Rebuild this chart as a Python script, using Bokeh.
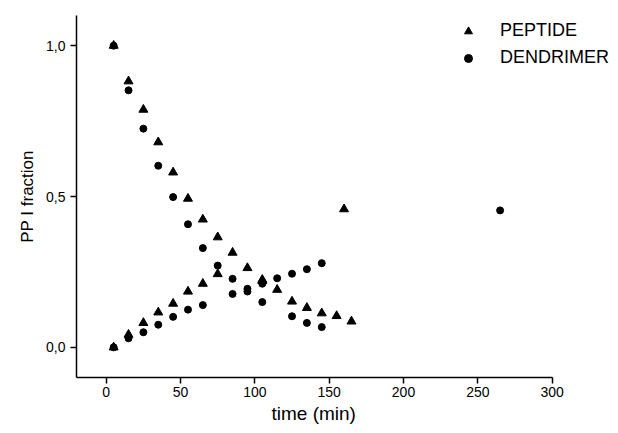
from bokeh.plotting import figure
from bokeh.models import Range1d, FixedTicker, Legend, LegendItem, Title
from bokeh.embed import file_html
from bokeh.resources import INLINE

# PEPTIDE (triangles)
peptide_dec_x = [5, 15, 25, 35, 45, 55, 65, 75, 85, 95, 105, 115, 125, 135, 145, 155, 165]
peptide_dec_y = [1.0, 0.882, 0.788, 0.680, 0.580, 0.493, 0.424, 0.365, 0.314, 0.263, 0.224, 0.191, 0.152, 0.131, 0.113, 0.104, 0.086]
peptide_inc_x = [5, 15, 25, 35, 45, 55, 65, 75, 105]
peptide_inc_y = [0.0, 0.042, 0.081, 0.116, 0.145, 0.185, 0.211, 0.243, 0.220]
peptide_extra_x = [160]
peptide_extra_y = [0.458]

# DENDRIMER (circles)
dendrimer_dec_x = [5, 15, 25, 35, 45, 55, 65, 75, 85, 95, 105, 125, 135, 145]
dendrimer_dec_y = [1.0, 0.852, 0.725, 0.602, 0.498, 0.408, 0.329, 0.271, 0.227, 0.194, 0.150, 0.103, 0.081, 0.067]
dendrimer_inc_x = [5, 15, 25, 35, 45, 55, 65, 85, 95, 105, 115, 125, 135, 145]
dendrimer_inc_y = [0.0, 0.030, 0.050, 0.075, 0.101, 0.125, 0.140, 0.177, 0.185, 0.211, 0.229, 0.244, 0.259, 0.279]
dendrimer_extra_x = [265]
dendrimer_extra_y = [0.454]

x_ticks = [0, 50, 100, 150, 200, 250, 300]
x_axis_bounds = (-20, 300)
y_ticks = [0.0, 0.5, 1.0]
y_tick_labels = ["0,0", "0,5", "1,0"]

FONT = "Liberation Sans"

p = figure(width=618, height=433, output_backend="svg", toolbar_location=None,
           x_range=Range1d(-20, 343.3), y_range=Range1d(-0.1, 1.1),
           min_border_left=76, min_border_right=2, min_border_top=15, min_border_bottom=56)
p.outline_line_color = None
p.xgrid.visible = False
p.ygrid.visible = False
p.background_fill_color = "white"
p.border_fill_color = "white"

for ax in (p.xaxis[0], p.yaxis[0]):
    ax.axis_line_color = "black"
    ax.axis_line_width = 1.5
    ax.major_tick_line_color = "black"
    ax.major_tick_line_width = 1.5
    ax.major_tick_in = 0
    ax.major_tick_out = 6
    ax.minor_tick_line_color = None
    ax.major_label_text_font = FONT
    ax.major_label_text_font_size = "14px"
    ax.major_label_text_color = "black"
    ax.axis_label_text_font = FONT
    ax.axis_label_text_font_style = "normal"
    ax.axis_label_text_color = "black"

p.xaxis.ticker = FixedTicker(ticks=x_ticks)
p.xaxis.bounds = x_axis_bounds
p.yaxis.ticker = FixedTicker(ticks=y_ticks)
p.yaxis.major_label_overrides = {t: l for t, l in zip(y_ticks, y_tick_labels)}
p.yaxis.axis_label = "PP I fraction"
p.yaxis.axis_label_text_font_size = "17px"
p.xaxis.major_label_standoff = 3
p.yaxis.major_label_standoff = 5
p.yaxis.axis_label_standoff = 6

xlabel = Title(text="time (min)", align="left", offset=195, standoff=2,
               text_font=FONT, text_font_size="19px", text_font_style="normal",
               text_color="black")
p.add_layout(xlabel, "below")

tri_renderers = []
for xs, ys in [(peptide_dec_x, peptide_dec_y), (peptide_inc_x, peptide_inc_y), (peptide_extra_x, peptide_extra_y)]:
    tri_renderers.append(p.scatter(xs, ys, marker="triangle", size=9, color="black"))
cir_renderers = []
for xs, ys in [(dendrimer_dec_x, dendrimer_dec_y), (dendrimer_inc_x, dendrimer_inc_y), (dendrimer_extra_x, dendrimer_extra_y)]:
    cir_renderers.append(p.scatter(xs, ys, marker="circle", size=7, color="black"))

# smaller markers used only for the legend (hidden in the plot area)
leg_tri = p.scatter(peptide_dec_x, peptide_dec_y, marker="triangle", size=6, color="black", visible=False)
leg_cir = p.scatter(dendrimer_dec_x, dendrimer_dec_y, marker="circle", size=5, color="black", visible=False)
legend = Legend(items=[LegendItem(label="PEPTIDE", renderers=[leg_tri]),
                       LegendItem(label="DENDRIMER", renderers=[leg_cir])],
                location=(382, 309), border_line_color=None, background_fill_alpha=0,
                padding=0, margin=0, spacing=6, glyph_width=20, glyph_height=20,
                label_height=20, label_standoff=22, label_text_font=FONT,
                label_text_font_size="18px", label_text_color="black")
p.add_layout(legend)

open("out.html", "w").write(file_html(p, INLINE))
